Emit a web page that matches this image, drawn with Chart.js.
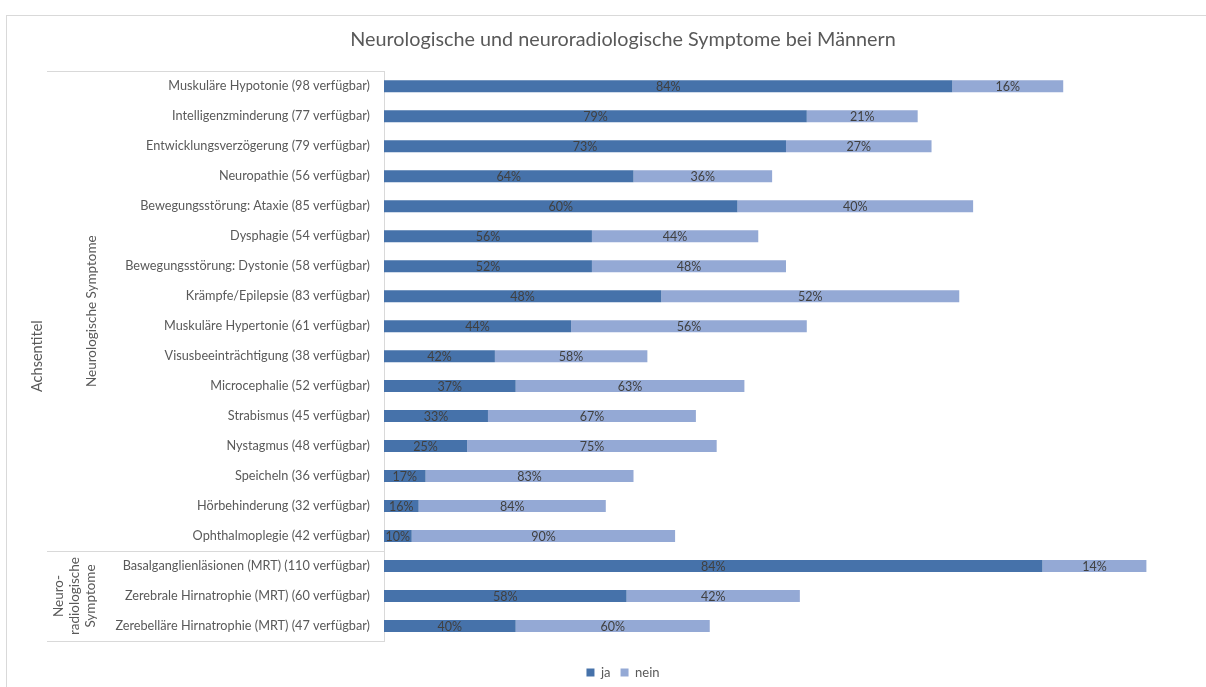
<!DOCTYPE html>
<html>
<head>
<meta charset="utf-8">
<script src="https://cdn.jsdelivr.net/npm/chart.js@4"></script>
<style>
  html, body { margin: 0; padding: 0; background: #ffffff; }
  #wrap { width: 1206px; height: 687px; position: relative; }
</style>
</head>
<body>
<div id="wrap"><canvas id="c" width="1206" height="687"></canvas></div>
<script>
// ---------- DATA ----------
const categories = [
  'Muskuläre Hypotonie (98 verfügbar)',
  'Intelligenzminderung (77 verfügbar)',
  'Entwicklungsverzögerung (79 verfügbar)',
  'Neuropathie (56 verfügbar)',
  'Bewegungsstörung: Ataxie (85 verfügbar)',
  'Dysphagie (54 verfügbar)',
  'Bewegungsstörung: Dystonie (58 verfügbar)',
  'Krämpfe/Epilepsie (83 verfügbar)',
  'Muskuläre Hypertonie (61 verfügbar)',
  'Visusbeeinträchtigung (38 verfügbar)',
  'Microcephalie (52 verfügbar)',
  'Strabismus (45 verfügbar)',
  'Nystagmus (48 verfügbar)',
  'Speicheln (36 verfügbar)',
  'Hörbehinderung (32 verfügbar)',
  'Ophthalmoplegie (42 verfügbar)',
  'Basalganglienläsionen (MRT) (110 verfügbar)',
  'Zerebrale Hirnatrophie (MRT) (60 verfügbar)',
  'Zerebelläre Hirnatrophie (MRT) (47 verfügbar)'
];
const jaCounts   = [82, 61, 58, 36, 51, 30, 30, 40, 27, 16, 19, 15, 12, 6, 5, 4, 95, 35, 19];
const neinCounts = [16, 16, 21, 20, 34, 24, 28, 43, 34, 22, 33, 30, 36, 30, 27, 38, 15, 25, 28];
const jaLabels   = ['84%','79%','73%','64%','60%','56%','52%','48%','44%','42%','37%','33%','25%','17%','16%','10%','84%','58%','40%'];
const neinLabels = ['16%','21%','27%','36%','40%','44%','48%','52%','56%','58%','63%','67%','75%','83%','84%','90%','14%','42%','60%'];
const seriesNames = ['ja', 'nein'];
const groups = [
  { lines: ['Neurologische Symptome'], from: 0, to: 15 },
  { lines: ['Neuro-', 'radiologische', 'Symptome'], from: 16, to: 18 }
];
const chartTitle = 'Neurologische und neuroradiologische Symptome bei Männern';
const axisTitle = 'Achsentitel';

// ---------- STYLE ----------
const FONT = 'Lato, "Open Sans", sans-serif';
const TEXT = '#595959';
const LINE = '#d9d9d9';
const COL_JA = '#4672aa';
const COL_NEIN = '#94a9d5';

const framePlugin = {
  id: 'frame',
  beforeDraw(chart) {
    const ctx = chart.ctx;
    ctx.save();
    ctx.strokeStyle = LINE;
    ctx.lineWidth = 1;
    ctx.strokeRect(6.5, 15.5, 1400, 800);
    ctx.restore();
  },
  afterDraw(chart) {
    const ctx = chart.ctx;
    const y = chart.scales.y;
    const area = chart.chartArea;
    const boxLeft = 47;
    const step = y.getPixelForValue(1) - y.getPixelForValue(0);
    ctx.save();
    ctx.strokeStyle = LINE;
    ctx.lineWidth = 1;
    const bounds = [];
    groups.forEach(g => {
      bounds.push(Math.round(y.getPixelForValue(g.from) - step / 2) + 0.5);
    });
    bounds.push(Math.round(y.getPixelForValue(groups[groups.length - 1].to) + step / 2) + 0.5);
    ctx.beginPath();
    bounds.forEach(b => { ctx.moveTo(boxLeft, b); ctx.lineTo(area.left, b); });
    ctx.stroke();
    ctx.fillStyle = TEXT;
    ctx.font = '13.5px ' + FONT;
    ctx.textAlign = 'center';
    ctx.textBaseline = 'middle';
    groups.forEach((g, gi) => {
      const yc = (y.getPixelForValue(g.from) + y.getPixelForValue(g.to)) / 2;
      const xc = gi === 0 ? 92 : 75;
      ctx.save();
      ctx.translate(xc, yc);
      ctx.rotate(-Math.PI / 2);
      const n = g.lines.length;
      g.lines.forEach((t, i) => {
        ctx.fillText(t, 0, (i - (n - 1) / 2) * 16);
      });
      ctx.restore();
    });
    ctx.save();
    ctx.font = '14.5px ' + FONT;
    ctx.translate(37, (area.top + area.bottom) / 2);
    ctx.rotate(-Math.PI / 2);
    ctx.fillText(axisTitle, 0, 0);
    ctx.restore();
    ctx.restore();
  }
};

const valueLabelPlugin = {
  id: 'valueLabels',
  afterDatasetsDraw(chart) {
    const ctx = chart.ctx;
    const labelSets = [jaLabels, neinLabels];
    ctx.save();
    ctx.font = '12.5px ' + FONT;
    ctx.fillStyle = '#404040';
    ctx.textAlign = 'center';
    ctx.textBaseline = 'middle';
    chart.data.datasets.forEach((ds, di) => {
      const meta = chart.getDatasetMeta(di);
      meta.data.forEach((el, i) => {
        const p = el.getProps(['x', 'y', 'base'], true);
        ctx.fillText(labelSets[di][i], (p.x + p.base) / 2, p.y + 1);
      });
    });
    ctx.restore();
  }
};

new Chart(document.getElementById('c'), {
  type: 'bar',
  data: {
    labels: categories,
    datasets: [
      { label: seriesNames[0], data: jaCounts, backgroundColor: COL_JA, borderWidth: 0 },
      { label: seriesNames[1], data: neinCounts, backgroundColor: COL_NEIN, borderWidth: 0 }
    ]
  },
  options: {
    indexAxis: 'y',
    responsive: false,
    animation: false,
    devicePixelRatio: 1,
    datasets: { bar: { categoryPercentage: 1, barPercentage: 0.4 } },
    layout: { padding: { left: 40, right: 0, top: 0, bottom: -2 } },
    scales: {
      x: {
        stacked: true,
        min: 0,
        max: 118.6,
        display: true,
        ticks: { display: false },
        grid: { display: false },
        border: { display: false },
        afterFit(s) { s.height = 15; }
      },
      y: {
        stacked: true,
        offset: true,
        ticks: { color: TEXT, font: { family: FONT, size: 12.7 }, padding: 14, autoSkip: false },
        grid: { display: false, drawTicks: false },
        border: { display: true, color: LINE },
        afterFit(s) { s.width = 344; }
      }
    },
    plugins: {
      title: {
        display: true,
        text: chartTitle,
        color: TEXT,
        font: { family: FONT, size: 19.8, weight: 'normal', lineHeight: 1.2 },
        padding: { top: 27.5, bottom: 20 }
      },
      legend: {
        display: true,
        position: 'bottom',
        labels: {
          color: TEXT,
          font: { family: FONT, size: 13 },
          boxWidth: 8,
          boxHeight: 8,
          padding: 10
        }
      },
      tooltip: { enabled: false }
    }
  },
  plugins: [framePlugin, valueLabelPlugin]
});
</script>
</body>
</html>
